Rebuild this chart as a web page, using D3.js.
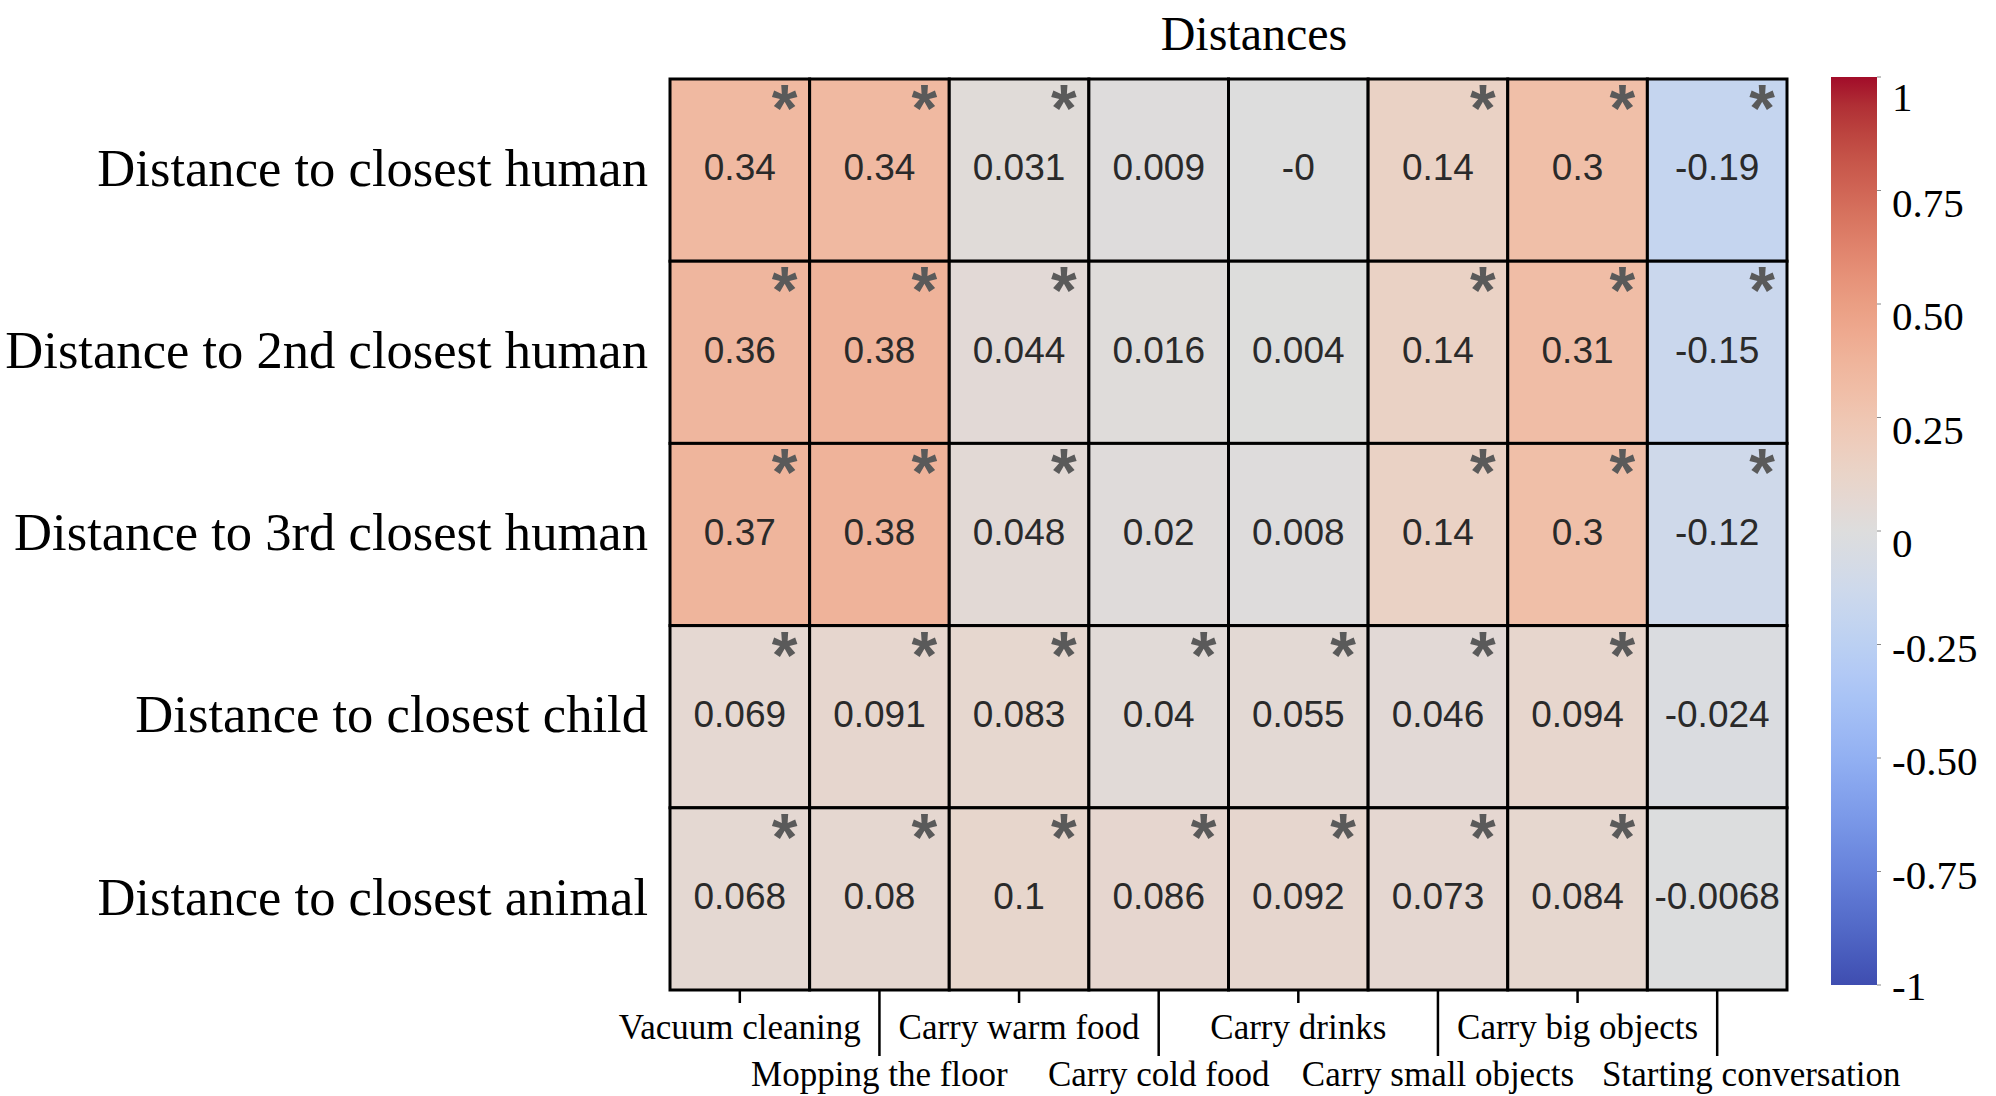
<!DOCTYPE html>
<html>
<head>
<meta charset="utf-8">
<script src="https://cdn.jsdelivr.net/npm/d3@7"></script>
<style>
  html, body { margin: 0; padding: 0; background: #fff; }
  svg { display: block; }
</style>
</head>
<body>
<svg id="chart" width="1996" height="1096"></svg>
<script>
// ---------------- DATA ----------------
const title = "Distances";
const rowLabels = [
  "Distance to closest human",
  "Distance to 2nd closest human",
  "Distance to 3rd closest human",
  "Distance to closest child",
  "Distance to closest animal"
];
const colLabels = [
  "Vacuum cleaning",
  "Mopping the floor",
  "Carry warm food",
  "Carry cold food",
  "Carry drinks",
  "Carry small objects",
  "Carry big objects",
  "Starting conversation"
];
// values shown in the cells (as printed)
const row0 = ["0.34", "0.34", "0.031", "0.009", "-0", "0.14", "0.3", "-0.19"];
const row1 = ["0.36", "0.38", "0.044", "0.016", "0.004", "0.14", "0.31", "-0.15"];
const row2 = ["0.37", "0.38", "0.048", "0.02", "0.008", "0.14", "0.3", "-0.12"];
const row3 = ["0.069", "0.091", "0.083", "0.04", "0.055", "0.046", "0.094", "-0.024"];
const row4 = ["0.068", "0.08", "0.1", "0.086", "0.092", "0.073", "0.084", "-0.0068"];
const values = [row0, row1, row2, row3, row4];
// significance markers (1 = asterisk)
const sig0 = [1, 1, 1, 0, 0, 1, 1, 1];
const sig1 = [1, 1, 1, 0, 0, 1, 1, 1];
const sig2 = [1, 1, 1, 0, 0, 1, 1, 1];
const sig3 = [1, 1, 1, 1, 1, 1, 1, 0];
const sig4 = [1, 1, 1, 1, 1, 1, 1, 0];
const significance = [sig0, sig1, sig2, sig3, sig4];
const colorbarTicks = [1, 0.75, 0.5, 0.25, 0, -0.25, -0.5, -0.75, -1];
const colorbarTickLabels = ["1", "0.75", "0.50", "0.25", "0", "-0.25", "-0.50", "-0.75", "-1"];

// coolwarm colormap anchors (Moreland)
const coolwarm = [
  [59,76,192],[68,90,204],[77,104,215],[87,117,225],[98,130,234],[108,142,241],
  [119,154,247],[130,165,251],[141,176,254],[152,185,255],[163,194,255],[174,201,253],
  [184,208,249],[194,213,244],[204,217,238],[213,219,230],[221,221,221],[229,216,209],
  [236,211,197],[241,204,185],[245,196,173],[247,187,160],[247,177,148],[247,166,135],
  [244,154,123],[241,141,111],[236,127,99],[229,112,88],[222,96,77],[213,80,66],
  [203,62,56],[192,40,47],[180,4,38]
];

(function () {
// ---------------- LAYOUT ----------------
const svg = d3.select("#chart");
const pLeft = 670, pRight = 1787, pTop = 79, pBottom = 990;
const serif = "'Liberation Serif', 'Times New Roman', serif";
const sans = "'Liberation Sans', Arial, sans-serif";

const x = d3.scaleBand().domain(d3.range(colLabels.length)).range([pLeft, pRight]);
const y = d3.scaleBand().domain(d3.range(rowLabels.length)).range([pTop, pBottom]);

// slightly muted rendering of coolwarm (as in the reference image)
const mute = c => {
  const l = 0.3 * c[0] + 0.59 * c[1] + 0.11 * c[2];
  const k = 0.15;
  return d3.rgb(c[0] + (l - c[0]) * k, c[1] + (l - c[1]) * k, c[2] + (l - c[2]) * k).formatHex();
};
const cmapColors = coolwarm.map(mute);
const cmapStops = coolwarm.map((c, i) => i / (coolwarm.length - 1));
const cmap = d3.scaleLinear().domain(cmapStops).range(cmapColors).interpolate(d3.interpolateRgb);
const color = d3.scaleLinear().domain([-1, 1]).range([0, 1]);
const fillFor = v => cmap(color(v));

// title
svg.append("text")
  .attr("x", 1254).attr("y", 50)
  .attr("text-anchor", "middle")
  .attr("font-family", serif).attr("font-size", 48)
  .attr("fill", "#000")
  .text(title);

// cells
const cells = [];
values.forEach((row, r) => row.forEach((s, c) => cells.push({ r, c, s, v: +s, sig: significance[r][c] })));

const g = svg.append("g");
g.selectAll("rect.cell").data(cells).join("rect")
  .attr("class", "cell")
  .attr("x", d => x(d.c)).attr("y", d => y(d.r))
  .attr("width", x.bandwidth()).attr("height", y.bandwidth())
  .attr("fill", d => fillFor(d.v))
  .attr("stroke", "#000").attr("stroke-width", 3);

g.selectAll("text.val").data(cells).join("text")
  .attr("class", "val")
  .attr("x", d => x(d.c) + x.bandwidth() / 2)
  .attr("y", d => y(d.r) + y.bandwidth() / 2 - 3)
  .attr("dy", "0.36em")
  .attr("text-anchor", "middle")
  .attr("font-family", sans).attr("font-size", 37)
  .attr("fill", "#2a2a2a")
  .text(d => d.s);

g.selectAll("text.sig").data(cells.filter(d => d.sig)).join("text")
  .attr("class", "sig")
  .attr("x", d => x(d.c) + x.bandwidth() - 25)
  .attr("y", d => y(d.r) + 52)
  .attr("text-anchor", "middle")
  .attr("font-family", sans).attr("font-weight", "bold").attr("font-size", 66)
  .attr("fill", "#5a5a5a")
  .text("*");

// row labels
svg.selectAll("text.rowlab").data(rowLabels).join("text")
  .attr("class", "rowlab")
  .attr("x", 648)
  .attr("y", (d, i) => y(i) + y.bandwidth() / 2)
  .attr("dy", "0.3em")
  .attr("text-anchor", "end")
  .attr("font-family", serif).attr("font-size", 52.6)
  .attr("fill", "#000")
  .text(d => d);

// x ticks and labels (staggered)
const xt = svg.append("g");
xt.selectAll("line").data(colLabels).join("line")
  .attr("x1", (d, i) => x(i) + x.bandwidth() / 2)
  .attr("x2", (d, i) => x(i) + x.bandwidth() / 2)
  .attr("y1", pBottom)
  .attr("y2", (d, i) => i % 2 === 0 ? 1003 : 1056)
  .attr("stroke", "#000").attr("stroke-width", 2.5);
const xl = xt.selectAll("text").data(colLabels).join("text")
  .attr("x", (d, i) => x(i) + x.bandwidth() / 2)
  .attr("y", (d, i) => i % 2 === 0 ? 1039 : 1086)
  .attr("text-anchor", "middle")
  .attr("font-family", serif).attr("font-size", 35)
  .attr("fill", "#000")
  .text(d => d);
// push labels of the same staggered line apart so they never overlap
const minGap = 28;
[0, 1].forEach(parity => {
  let prevRight = -Infinity;
  xl.filter((d, i) => i % 2 === parity).each(function () {
    const el = d3.select(this);
    const w = this.getComputedTextLength();
    let cx = +el.attr("x");
    if (cx - w / 2 < prevRight + minGap) cx = prevRight + minGap + w / 2;
    el.attr("x", cx);
    prevRight = cx + w / 2;
  });
});

// colorbar
const cbX = 1831, cbW = 46, cbTop = 77, cbBottom = 985;
const defs = svg.append("defs");
const grad = defs.append("linearGradient").attr("id", "cbgrad")
  .attr("x1", 0).attr("y1", 1).attr("x2", 0).attr("y2", 0);
grad.selectAll("stop").data(cmapColors).join("stop")
  .attr("offset", (d, i) => cmapStops[i])
  .attr("stop-color", d => d);
svg.append("rect")
  .attr("x", cbX).attr("y", cbTop)
  .attr("width", cbW).attr("height", cbBottom - cbTop)
  .attr("fill", "url(#cbgrad)");

const cy = d3.scaleLinear().domain([-1, 1]).range([cbBottom, cbTop]);
const cb = svg.append("g");
cb.selectAll("line").data(colorbarTicks).join("line")
  .attr("x1", cbX + cbW).attr("x2", cbX + cbW + 4)
  .attr("y1", d => cy(d)).attr("y2", d => cy(d))
  .attr("stroke", "#888").attr("stroke-width", 1);
cb.selectAll("text").data(colorbarTicks).join("text")
  .attr("x", cbX + cbW + 15)
  .attr("y", d => cy(d) + (d === 1 ? 20 : d === -1 ? 1 : d >= 0 ? 12 : 3))
  .attr("dy", "0.35em")
  .attr("font-family", serif).attr("font-size", 41)
  .attr("fill", "#000")
  .text((d, i) => colorbarTickLabels[i]);
})();
</script>
</body>
</html>
